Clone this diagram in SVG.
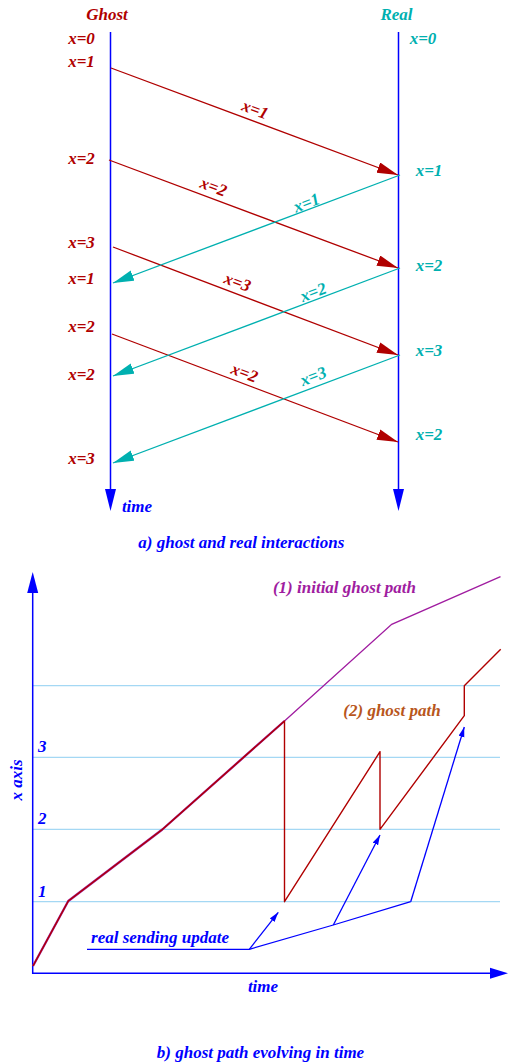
<svg xmlns="http://www.w3.org/2000/svg" width="508" height="1063" viewBox="0 0 508 1063">
<style>
text{font-family:"Liberation Serif","Times New Roman",serif;font-weight:bold;font-style:italic;font-size:17px}
.r{fill:#b00000}.c{fill:#00b0b0}.b{fill:#0000ff}
.m{text-anchor:middle}
.lr{stroke:#b00000;stroke-width:1.3;fill:none}
.lc{stroke:#00b0b0;stroke-width:1.3;fill:none}
.lb{stroke:#0000ff;stroke-width:1.3;fill:none}
.grid{stroke:#a4d8f4;stroke-width:1.2}
</style>
<defs>
<marker id="ar" markerUnits="userSpaceOnUse" markerWidth="22" markerHeight="12" refX="21" refY="5.5" orient="auto"><path d="M0,0 L21,5.5 L0,11 z" fill="#b00000"/></marker>
<marker id="ac" markerUnits="userSpaceOnUse" markerWidth="22" markerHeight="12" refX="21" refY="5.5" orient="auto"><path d="M0,0 L21,5.5 L0,11 z" fill="#00b0b0"/></marker>
<marker id="ab" markerUnits="userSpaceOnUse" markerWidth="11" markerHeight="7" refX="10" refY="3" orient="auto"><path d="M0,0 L10,3 L0,6 z" fill="#0000ff"/></marker>
</defs>

<g id="ghost-axis">
<line x1="110.5" y1="32" x2="110.5" y2="492" stroke="#0000ff" stroke-width="1.5"/>
<polygon points="105,489 116,489 110.5,511" fill="#0000ff"/>
<text class="r m" x="107" y="20">Ghost</text>
<text class="b m" x="137" y="512">time</text>
</g>
<g id="real-axis">
<line x1="398.5" y1="32" x2="398.5" y2="492" stroke="#0000ff" stroke-width="1.5"/>
<polygon points="393,489 404,489 398.5,511" fill="#0000ff"/>
<text class="c m" x="396.5" y="20">Real</text>
</g>

<g id="ghost-labels">
<text class="r m" x="81.5" y="44">x=0</text>
<text class="r m" x="81.5" y="67">x=1</text>
<text class="r m" x="81.5" y="163.5">x=2</text>
<text class="r m" x="81.5" y="248">x=3</text>
<text class="r m" x="81.5" y="284">x=1</text>
<text class="r m" x="81.5" y="331.5">x=2</text>
<text class="r m" x="81.5" y="379.5">x=2</text>
<text class="r m" x="81.5" y="463.5">x=3</text>
</g>
<g id="real-labels">
<text class="c m" x="423" y="44">x=0</text>
<text class="c m" x="429" y="175.5">x=1</text>
<text class="c m" x="429" y="271">x=2</text>
<text class="c m" x="429" y="355.5">x=3</text>
<text class="c m" x="429" y="439.5">x=2</text>
</g>

<g id="connectors">
<line class="lr" x1="111" y1="68" x2="398" y2="175" marker-end="url(#ar)"/>
<line class="lr" x1="109" y1="160" x2="398" y2="268" marker-end="url(#ar)"/>
<line class="lr" x1="113" y1="247" x2="398" y2="355" marker-end="url(#ar)"/>
<line class="lr" x1="112" y1="334" x2="398" y2="442" marker-end="url(#ar)"/>
<line class="lc" x1="400" y1="175" x2="113" y2="283" marker-end="url(#ac)"/>
<line class="lc" x1="400" y1="268" x2="113" y2="376" marker-end="url(#ac)"/>
<line class="lc" x1="400" y1="355" x2="113" y2="463" marker-end="url(#ac)"/>
</g>

<g id="message-labels">
<text class="r m" transform="translate(253.3,114.7) rotate(20.4)">x=1</text>
<text class="r m" transform="translate(211.6,192) rotate(20.4)">x=2</text>
<text class="r m" transform="translate(235.6,287.4) rotate(20.4)">x=3</text>
<text class="r m" transform="translate(242.6,378) rotate(20.4)">x=2</text>
<text class="c m" transform="translate(308.5,208) rotate(-20.8)">x=1</text>
<text class="c m" transform="translate(315.1,297.4) rotate(-20.8)">x=2</text>
<text class="c m" transform="translate(315.1,381.4) rotate(-20.8)">x=3</text>
</g>

<text class="b m" x="241.3" y="547.5">a) ghost and real interactions</text>

<g id="graph-grid">
<line class="grid" x1="33" y1="685.7" x2="500" y2="685.7"/>
<line class="grid" x1="33" y1="757.3" x2="500" y2="757.3"/>
<line class="grid" x1="33" y1="829.3" x2="500" y2="829.3"/>
<line class="grid" x1="33" y1="901.7" x2="500" y2="901.7"/>
</g>
<g id="graph-axes">
<line x1="32.7" y1="974" x2="32.7" y2="590" stroke="#0000ff" stroke-width="1.5"/>
<polygon points="27.2,593 38.2,593 32.7,572" fill="#0000ff"/>
<line x1="32" y1="973.3" x2="492" y2="973.3" stroke="#0000ff" stroke-width="1.5"/>
<polygon points="490,967.8 490,978.8 508,973.3" fill="#0000ff"/>
<text class="b" x="38" y="751.7">3</text>
<text class="b" x="38" y="824">2</text>
<text class="b" x="38" y="896.7">1</text>
<text class="b m" transform="translate(21.5,780) rotate(-90)">x axis</text>
<text class="b m" x="263" y="991.7">time</text>
</g>

<g id="initial-ghost-path">
<polyline points="33,966 68.3,901 162.3,829.5 284.5,721" fill="none" stroke="#a01ca0" stroke-width="2.3" stroke-linejoin="round"/>
<polyline points="284.5,721 391.7,624.3 500.5,576.7" fill="none" stroke="#a01ca0" stroke-width="1.3"/>
<text x="344.5" y="593" class="m" fill="#a01ca0">(1) initial ghost path</text>
</g>
<g id="ghost-path">
<polyline points="33,966 68.3,901 162.3,829.5 284.5,721 284.5,901.7 380,751.7 380,829.3 464.3,715.7 464.3,685.7 500.7,649.3" fill="none" stroke="#b00000" stroke-width="1.4" stroke-linejoin="round"/>
<text x="392" y="716" class="m" fill="#b8561c">(2) ghost path</text>
</g>
<g id="real-updates">
<polyline class="lb" points="87,949.3 249.3,949.3 333.3,925 410.7,901.7"/>
<line class="lb" x1="410.7" y1="901.7" x2="464.3" y2="727" marker-end="url(#ab)"/>
<line class="lb" x1="249.3" y1="949.3" x2="278.3" y2="912.3" marker-end="url(#ab)"/>
<line class="lb" x1="333.3" y1="925" x2="380" y2="835" marker-end="url(#ab)"/>
<text class="b m" x="160" y="943">real sending update</text>
</g>

<text class="b m" x="260.5" y="1058.3">b) ghost path evolving in time</text>
</svg>
